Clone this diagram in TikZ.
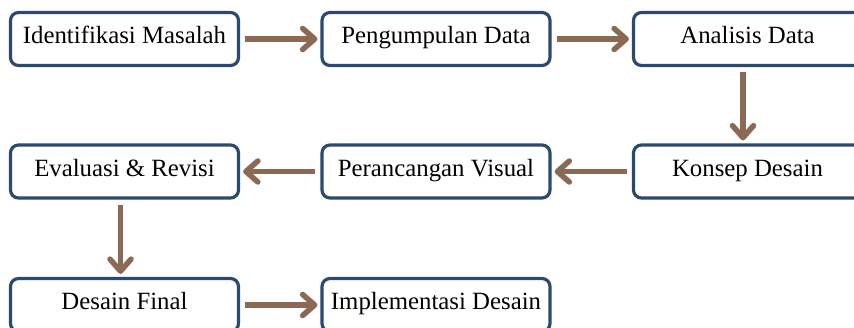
\documentclass[tikz,border=0pt]{standalone}
\usepackage{fontspec}
\setmainfont{Liberation Serif}
\usetikzlibrary{arrows.meta}
\definecolor{boxblue}{HTML}{2C4A70}
\definecolor{flowbrown}{HTML}{8B6954}
\begin{document}
\begin{tikzpicture}[x=1pt,y=-1pt,
  stage/.style={draw=boxblue, line width=3.2pt, rounded corners=8pt, fill=white,
    minimum width=228pt, minimum height=53pt, inner sep=0pt,
    text height=17pt, text depth=8pt, font=\fontsize{24.8}{29}\selectfont},
  flow/.style={draw=flowbrown, line width=5.5pt,
    -{Straight Barb[length=12pt,width=21pt,round]},
    shorten <=5pt, shorten >=3pt}]
\useasboundingbox (0,0) rectangle (854,327);

% process stages
\node[stage] (s1) at (124.5,39) {Identifikasi Masalah};
\node[stage] (s2) at (436,39) {Pengumpulan Data};
\node[stage] (s3) at (747.5,39) {Analisis Data};
\node[stage] (s4) at (747.5,171.5) {Konsep Desain};
\node[stage] (s5) at (436,171.5) {Perancangan Visual};
\node[stage] (s6) at (124.5,171.5) {Evaluasi \& Revisi};
\node[stage] (s7) at (124.5,305) {Desain Final};
\node[stage] (s8) at (436,305) {Implementasi Desain};

% flow between stages
\draw[flow] (s1.east) -- (s2.west);
\draw[flow] (s2.east) -- (s3.west);
\draw[flow] ([xshift=-4.5pt]s3.south) -- ([xshift=-4.5pt]s4.north);
\draw[flow] (s4.west) -- (s5.east);
\draw[flow] (s5.west) -- (s6.east);
\draw[flow] ([xshift=-4pt]s6.south) -- ([xshift=-4pt]s7.north);
\draw[flow] (s7.east) -- (s8.west);
\end{tikzpicture}
\end{document}
